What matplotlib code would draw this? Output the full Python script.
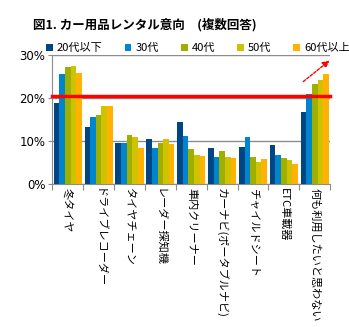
import matplotlib
matplotlib.use("Agg")
import matplotlib.pyplot as plt
import numpy as np

plt.rcParams['font.family'] = ['Noto Sans CJK JP', 'DejaVu Sans']

categories = ["冬タイヤ", "ドライブレコーダー", "タイヤチェーン", "レーダー探知機", "車内クリーナー",
              "カーナビ(ポータブルナビ)", "チャイルドシート", "ETC車載器", "何も利用したいと思わない"]
series_names = ["20代以下", "30代", "40代", "50代", "60代以上"]
s20 = [18.9, 13.3, 9.6, 10.5, 14.5, 8.4, 8.6, 9.1, 16.8]
s30 = [25.6, 15.6, 9.6, 8.4, 11.2, 6.3, 11.0, 6.8, 21.0]
s40 = [27.3, 15.9, 11.4, 9.6, 8.2, 7.7, 6.3, 6.1, 23.3]
s50 = [27.5, 18.2, 11.0, 10.5, 6.8, 6.3, 5.1, 5.6, 24.2]
s60 = [25.9, 18.2, 8.4, 9.3, 6.5, 6.1, 5.8, 4.7, 25.6]
series = [s20, s30, s40, s50, s60]
colors = ["#004584", "#0084CC", "#9EAF00", "#CFC200", "#FFB300"]
ref_line = 20.4
arrow_start = (7.56, 23.4)
arrow_end = (8.55, 29.1)

fig = plt.figure(figsize=(3.49, 3.27), dpi=100)
ax = fig.add_axes([0.150, 0.438, 0.796, 0.394])

n = len(categories)
x = np.arange(n)
bw = 0.182
for i, (vals, c) in enumerate(zip(series, colors)):
    ax.bar(x + (i - 2) * bw, vals, width=bw, color=c, label=series_names[i], zorder=3, linewidth=0)

ax.set_xlim(-0.5, n - 0.5)
ax.set_ylim(0, 30)
ax.set_yticks([0, 10, 20, 30])
ax.set_yticklabels(["0%", "10%", "20%", "30%"], fontsize=8.5, family=['DejaVu Sans'])
ax.yaxis.grid(True, color="#8c8c8c", linewidth=1, zorder=0)
ax.set_axisbelow(True)
for s in ["top", "right"]:
    ax.spines[s].set_visible(False)
for s in ["left", "bottom"]:
    ax.spines[s].set_color("#8c8c8c")
ax.tick_params(axis="y", length=3, color="#8c8c8c", pad=2)

ax.set_xticks(np.arange(-0.5, n, 1.0))
ax.set_xticklabels([])
ax.tick_params(axis="x", length=4, color="#8c8c8c", direction="out")
for xi, lab in zip(x, categories):
    ax.text(xi, -1.1, lab, rotation=-90, ha="center", va="top", fontsize=8,
            transform=ax.transData, clip_on=False)

ax.axhline(ref_line, color="#FF0000", linewidth=2.5, zorder=4, clip_on=False)
ax.annotate("", xy=arrow_end, xytext=arrow_start, annotation_clip=False,
            arrowprops=dict(arrowstyle="-|>", color="#FF0000", linestyle=(0, (2, 1.2)),
                            linewidth=1, mutation_scale=10))

leg = ax.legend(loc="lower left", bbox_to_anchor=(-0.03, 0.995), ncol=5, frameon=False,
                fontsize=8, handlelength=0.6, handleheight=0.6, handletextpad=0.35,
                columnspacing=2.0, borderaxespad=0.1, borderpad=0.1)

fig.text(0.095, 0.914, "図1. カー用品レンタル意向　(複数回答)", fontsize=9, fontweight="bold",
         ha="left", va="baseline")

fig.savefig("out.png", dpi=100)
